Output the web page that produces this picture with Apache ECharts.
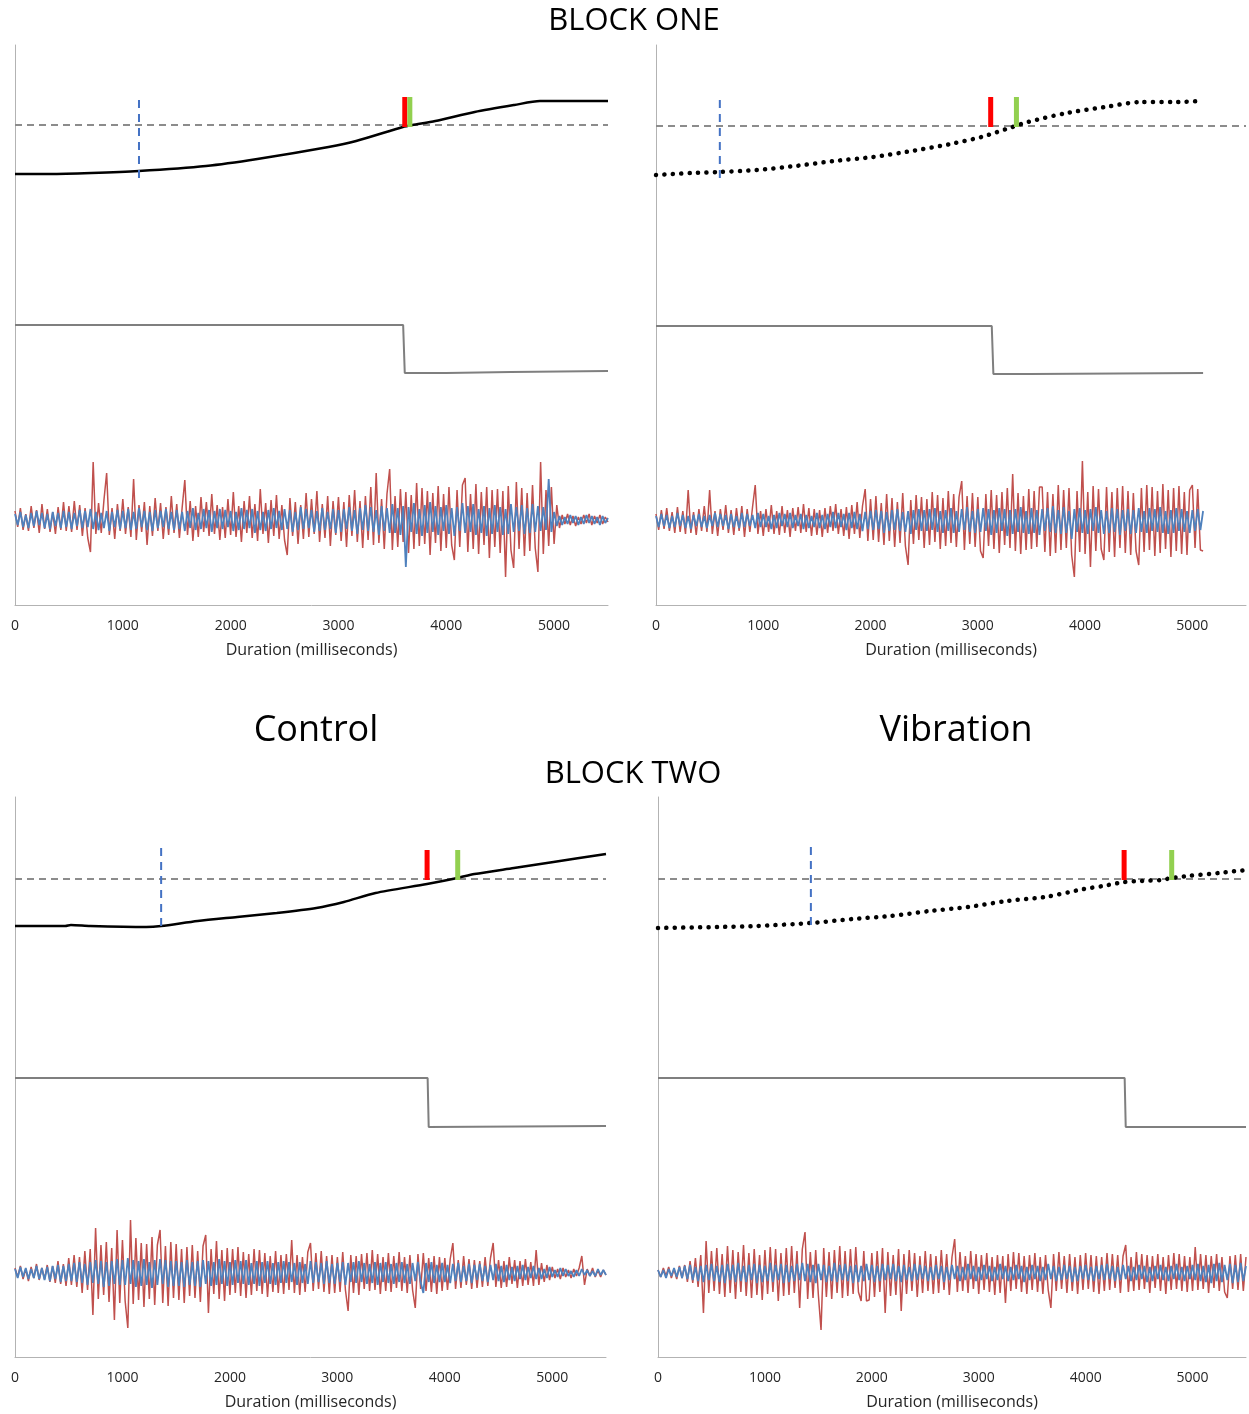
<!DOCTYPE html>
<html>
<head>
<meta charset="utf-8">
<script src="https://cdn.jsdelivr.net/npm/echarts/dist/echarts.min.js"></script>
<style>
html, body { margin: 0; padding: 0; background: #fff; }
#main { width: 1249px; height: 1414px; }
</style>
</head>
<body>
<div id="main"></div>
<script>
// ---- data (ms on x, arbitrary units on y) ----
var xTicks = [0, 1000, 2000, 3000, 4000, 5000];
var xMax = 5500;
var emgStep = 25;   // ms between EMG samples

// block one / control
var b1cCurveX = [0, 323, 708, 1148, 1771, 2248, 2908, 3164, 3597, 3685, 3898, 4264, 4631, 4869, 5500];
var b1cCurveY = [431, 431, 432, 434, 439, 446, 458, 464, 478, 480, 484, 493, 500, 504, 504];
var b1cLevel = 480;
var b1cOnset = [1150, 427, 508];
var b1cRed = [3615, 478, 508];
var b1cGreen = [3662, 478, 508];
var b1cStepX = [0, 3600, 3615, 4000, 4010, 4600, 4610, 5500];
var b1cStepY = [280, 280, 232, 232, 233, 233, 234, 234];
var b1cEmgBase = 85;
var b1cEmgRed = [
  9, -7, 12, -10, 6, -11, 14, -8, 10, -13, 16, -9, 11, -12, 8, -14, 13, -10, 18, -11,
  14, -12, 19, -10, 15, -16, 12, -18, -32, 58, -14, 17, -13, 20, 47, -15, 12, -19, 16, -11,
  21, -14, 13, -17, 41, -20, 15, -12, 18, -25, 14, -16, 22, -11, 17, -19, 13, -15, 24, -13,
  16, -18, 12, 40, -15, 19, -21, 14, -17, 23, -12, 18, -16, 26, -14, 15, -20, 13, -18, 21,
  -15, 28, -17, 14, -22, 19, -13, 24, -18, 16, -21, 31, -14, 17, -23, 20, -16, 25, -19, 15,
  -20, -35, 22, -16, 18, -24, 15, -19, 27, -17, 21, -14, 29, -22, 16, -18, 24, -26, 19, -15,
  23, -21, 18, -27, 25, -16, 30, -22, 19, -28, 24, -20, 33, -25, 47, -23, 21, -29, 26, 51,
  -30, 24, -27, 31, -22, 28, -33, 25, -29, 37, -26, 32, -24, 29, -35, 27, -23, 34, -31, 26,
  -28, 33, -25, -40, 30, -27, 35, 42, -32, 26, -29, 36, -34, 28, -25, 33, -38, 30, -27, 31,
  -33, 29, -57, 34, -30, -48, 38, -29, 32, -36, 27, -31, 35, -28, -52, 58, -34, 30, -26, 33,
  -24, 15, -8, 5, -4, 6, -5, 4, -6, 3, -4, 5, -3, 6, -5, 4, -3, 5, -4, 3,
  -2
];
var b1cEmgBlue = [
  6, -5, 8, -7, 5, -8, 7, -6, 9, -5, 7, -8, 6, -9, 8, -6, 7, -8, 9, -7,
  8, -9, 7, -6, 10, -8, 9, -7, 11, -9, 8, -10, 7, -8, 9, -11, 8, -7, 10, -9,
  9, -8, 11, -10, 8, -9, 12, -7, 9, -10, 8, -11, 10, -8, 9, -7, 11, -9, 8, -10,
  10, -9, 8, -11, 9, -8, 12, -10, 7, -9, 11, -8, 10, -12, 9, -8, 11, -9, 10, -7,
  9, -11, 8, -10, 12, -9, 10, -8, 11, -13, 9, -10, 8, -11, 10, -9, 12, -8, 9, -10,
  11, -9, 10, -12, 8, -10, 13, -9, 11, -8, 10, -12, 9, -11, 12, -10, 8, -9, 11, -13,
  10, -12, 11, -9, 13, -11, 10, -14, 12, -10, 15, -11, 13, -12, 10, -15, 14, -11, 12, -13,
  16, -13, 12, -15, 14, -47, 13, -12, 17, -14, 11, -16, 15, -13, 18, -12, 14, -15, 13, -11,
  15, -14, 12, -16, 13, -11, 17, -13, 14, -12, 16, -15, 11, -13, 14, -16, 12, -14, 15, -12,
  13, -15, 11, -14, 16, -12, 13, -11, 15, -14, 12, -13, 16, -12, 14, -11, 13, -10, 41, -12,
  8, -6, 4, -5, 3, -4, 5, -3, 4, -5, 3, -4, 5, -3, 4, -4, 3, -5, 4, -3,
  2
];

// block one / vibration
var b1vCurveX = [0, 325, 596, 939, 1300, 1661, 2022, 2384, 2745, 3034, 3322, 3467, 3828, 4189, 4514, 4839, 5100];
var b1vCurveY = [430, 432, 433, 435, 439, 444, 448, 454, 461, 468, 478, 483, 492, 498, 503, 503, 504];
var b1vLevel = 479;
var b1vOnset = [595, 427, 508];
var b1vRed = [3120, 478, 508];
var b1vGreen = [3360, 478, 508];
var b1vStepX = [0, 3130, 3145, 3500, 3510, 5100];
var b1vStepY = [279, 279, 231, 231, 232, 232];
var b1vEmgBase = 84;
var b1vEmgRed = [
  7, -9, 11, -8, 13, -10, 9, -12, 14, -11, 10, -13, 31, -12, 9, -14, 12, -10, 15, -11,
  31, -13, 10, -15, 12, -9, 16, -12, 11, -14, 13, -10, 15, -16, 12, -11, 14, 36, -13, 10,
  -15, 12, -11, 16, -13, 10, -14, 15, -12, 11, -16, 13, -10, 14, -12, 17, -11, 13, -15, 12,
  -14, 11, -16, 13, -12, 15, -10, 17, -13, 12, -15, 14, -18, 16, -13, 19, -17, 15, 32, -20,
  22, -19, 25, -21, 18, -24, 27, -20, 23, -26, 19, -22, 28, -25, -44, 21, -23, 26, -19, 24,
  -27, 22, -24, 29, -21, 26, -28, 23, -25, 30, -22, 27, -26, 24, 40, -29, 25, -23, 28, -26,
  24, -30, -37, 27, -25, 31, -28, 26, -32, 29, -24, 33, -27, 47, -30, 28, -33, 25, -29, 32,
  -28, 30, -26, 34, 34, -31, 29, -35, 27, -32, 36, -29, 31, -27, 33, -34, -56, 30, -31, 60,
  -33, 29, -46, 35, -30, 32, -28, -39, 34, -31, 29, -36, 33, -27, 35, -32, 30, -34, 28, -30,
  -44, 33, -31, 36, -29, 34, -35, 30, -32, 37, -28, 31, -36, 33, -30, 35, -33, 29, -34, 31,
  36, -27, 32, -29, -30
];
var b1vEmgBlue = [
  5, -6, 7, -5, 6, -7, 5, -6, 8, -5, 6, -7, 5, -8, 6, -5, 7, -6, 5, -7,
  6, -5, 8, -6, 7, -5, 6, -8, 7, -6, 5, -7, 8, -6, 7, -5, 6, -7, 8, -6,
  7, -6, 5, -8, 6, -7, 8, -5, 7, -6, 8, -7, 6, -5, 7, -8, 6, -7, 5, -6,
  8, -7, 6, -8, 7, -6, 9, -7, 8, -6, 7, -9, 8, -7, 9, -8, 7, -10, 9, -8,
  10, -9, 11, -8, 10, -12, 9, -10, 11, -9, 12, -10, 9, -11, 10, -13, 11, -9, 12, -10,
  11, -10, 12, -9, 13, -11, 10, -12, 11, -10, 13, -12, 10, -11, 12, -9, 14, -11, 10, -12,
  12, -11, 13, -10, 12, -14, 11, -12, 13, -10, 12, -15, 11, -13, 12, -11, 14, -12, 10, -13,
  13, -12, 11, -14, 12, -10, 13, -11, 15, -12, 11, -13, 14, -12, 10, -18, 12, -11, 13, -12,
  11, -13, 12, -10, 14, -12, 11, -13, 10, -12, 13, -11, 12, -14, 11, -10, 12, -13, 11, -12,
  13, -11, 10, -12, 13, -10, 12, -11, 14, -12, 10, -13, 11, -12, 13, -10, 12, -11, 10, -12,
  11, -10, 12, -9, 10
];

// block two / control
var b2cCurveX = [0, 467, 520, 700, 1221, 1361, 1700, 2068, 2436, 2804, 3061, 3355, 3834, 4117, 4275, 4643, 5011, 5500];
var b2cCurveY = [431, 431, 432, 431, 430, 431, 436, 440, 444, 449, 455, 464, 473, 479, 483, 489, 495, 503];
var b2cLevel = 478;
var b2cOnset = [1360, 431, 515];
var b2cRed = [3835, 477, 507];
var b2cGreen = [4120, 477, 507];
var b2cStepX = [0, 3840, 3850, 5500];
var b2cStepY = [279, 279, 230, 231];
var b2cEmgBase = 84;
var b2cEmgRed = [
  5, -4, 7, -6, 4, -8, 6, -5, 9, -7, 5, -6, 8, -9, 7, -10, 12, -11, 9, -13,
  15, -12, 18, -14, 16, -20, 22, -17, 24, -42, 45, -26, 28, -22, 31, -29, 25, -47, 43, -30,
  33, -28, -55, 53, -31, 35, -27, 30, -34, 29, -26, 36, -32, 28, 43, -30, 27, -33, 31, -25,
  29, -27, 24, -30, 26, -23, 28, -25, 22, -29, 27, 38, -40, 24, -21, 32, -26, 23, -28, 25,
  -22, 24, -20, 26, -23, 21, -25, 19, -22, 24, -18, 23, -21, 20, -24, 17, -19, 22, -20, 18,
  -21, 19, -17, 33, -20, 18, -22, 16, -19, 21, 30, -18, 20, -16, 22, -19, 17, -21, 18, -20,
  16, -19, 21, -17, -38, 18, -20, 17, -22, 19, -16, 20, -18, 23, -17, 19, -21, 16, -18, 20,
  -19, 17, -15, 21, -18, 16, -20, 18, -17, -35, 19, -16, 20, -18, 15, -19, 17, -21, 16, -18,
  15, -17, 14, 30, -16, 13, -15, 17, -12, 14, -16, 13, -15, 12, -14, 16, -13, 15, 30, -14,
  13, -15, 12, -14, 16, -11, 13, -15, 12, -13, 14, -12, 11, -13, 23, -12, 10, -9, 8, -7,
  6, -5, 4, -6, 5, -4, 3, -5, 4, -3, 5, 17, -12, 4, -3, 5, -4, 3, -4, 3,
  -2
];
var b2cEmgBlue = [
  4, -5, 6, -4, 5, -6, 4, -5, 7, -6, 5, -7, 6, -8, 7, -6, 8, -9, 7, -8,
  9, -8, 10, -9, 11, -10, 9, -12, 11, -10, 13, -11, 12, -14, 11, -13, 12, -11, 14, -12,
  13, -12, 15, -11, 13, -14, 12, -13, 14, -12, 11, -15, 13, -12, 14, -11, 13, -14, 12, -13,
  12, -13, 11, -14, 13, -12, 11, -13, 12, -14, 13, -11, 12, -13, 11, -12, 14, -11, 12, -13,
  11, -12, 13, -10, 12, -11, 13, -12, 10, -11, 12, -13, 11, -10, 12, -11, 10, -12, 11, -10,
  12, -10, 11, -9, 10, -12, 11, -10, 9, -11, 12, -10, 11, -9, 10, -11, 12, -10, 9, -11,
  10, -9, 11, -12, 10, -9, 11, -10, 12, -9, 10, -11, 9, -10, 11, -12, 10, -9, 11, -10,
  9, -11, 10, -9, 11, -10, 9, -11, 10, -8, 11, -9, -20, 10, -9, 11, -10, 8, -9, 10,
  -9, 8, -10, 9, -8, 10, -9, 7, -8, 9, -10, 8, -7, 9, -8, 7, -9, 8, -7, 9,
  -8, 7, -9, 8, -7, 6, -8, 7, -6, 8, -7, 6, -5, 7, -6, 5, -6, 4, -5, 6,
  -4, 3, -4, 5, -3, 4, -3, 2, -4, 3, -3, 4, -2, 3, -3, 2, -3, 4, -2, 3,
  -2
];

// block two / vibration
var b2vCurveX = [0, 559, 919, 1429, 1820, 2181, 2541, 2902, 3262, 3623, 3983, 4163, 4362, 4524, 4704, 4805, 4957, 5245, 5500];
var b2vCurveY = [429, 430, 431, 434, 438, 441, 446, 450, 456, 460, 468, 471, 475, 476, 477, 479, 481, 484, 487];
var b2vLevel = 478;
var b2vOnset = [1430, 432, 514];
var b2vRed = [4360, 477, 507];
var b2vGreen = [4805, 477, 507];
var b2vStepX = [0, 4365, 4375, 5500];
var b2vStepY = [279, 279, 230, 230];
var b2vEmgBase = 84;
var b2vEmgRed = [
  3, -4, 5, -3, 6, -5, 4, -6, 7, -5, 8, -9, 12, -10, 15, -14, 18, -40, 32, -20,
  22, -18, 25, -21, 19, -24, 27, -20, 23, -26, 21, -19, 28, -23, 20, -25, 24, -22, 18, -27,
  23, -21, 26, -19, 24, -28, 20, -23, 25, -22, 27, -20, 22, -35, 24, 41, -26, 21, -25, 23,
  -22, -57, 25, -24, 21, -26, 23, -20, 27, -25, 22, -23, 24, -21, 26, -19, -28, 22, -28, -27,
  20, -24, 22, -19, 25, -40, 21, -23, 18, -22, 24, -38, 19, -21, 23, -18, 20, -24, 17, -20,
  22, -18, 19, -21, 17, -20, 23, -17, 19, -22, 16, 34, -19, 21, -18, 17, -20, 22, -16, 19,
  -21, 18, -17, 20, -19, 16, -22, 18, -20, 17, -30, 19, -18, 21, -16, 20, -19, 17, -21, 18,
  -17, 20, -19, 16, -21, 18, -17, -35, 19, -18, 21, -16, 17, -20, 19, -18, 16, -21, 18, -17,
  20, -16, 18, -19, 17, -21, 16, -18, 20, -17, 19, -15, 18, -20, 17, 28, -19, 16, -18, 21,
  -17, 19, -16, 18, -20, 17, -15, 19, -18, 16, -21, 18, -17, 20, -16, 19, -18, 17, -19, 16,
  -18, 26, -17, 19, -16, 18, -20, 17, -15, 19, -18, 16, -19, -25, 17, -16, 18, -17, 19, -18,
  16
];
var b2vEmgBlue = [
  3, -4, 3, -5, 4, -3, 5, -4, 6, -5, 7, -6, 8, -7, 6, -8, 7, -9, 8, -7,
  9, -8, 7, -9, 8, -10, 9, -7, 8, -9, 10, -8, 7, -9, 8, -7, 9, -10, 8, -9,
  7, -8, 10, -9, 8, -7, 9, -10, 8, -9, 7, -8, 9, -7, 10, -8, 9, -9, 8, -10,
  9, -7, 8, -9, 7, -8, 10, -9, 8, -7, 9, -8, 7, -10, 8, -9, 7, -8, 9, -7,
  8, -9, 7, -8, 9, -7, 8, -6, 9, -8, 7, -9, 8, -7, 6, -8, 9, -7, 8, -6,
  7, -8, 6, -7, 8, -6, 7, -9, 6, -7, 8, -6, 7, -8, 6, -7, 9, -6, 7, -8,
  6, -7, 8, -6, 7, -8, 6, -7, 9, -6, 7, -8, 6, -7, 8, -6, 7, -9, 6, -7,
  8, -6, 7, -8, 6, -7, 9, -6, 7, -8, 6, -7, 8, -6, 7, -9, 6, -8, 7, -6,
  8, -7, 6, -8, 7, -6, 8, -7, 9, -6, 7, -8, 6, -7, 8, -6, 7, -8, 6, -7,
  8, -6, 7, -9, 6, -8, 7, -6, 8, -7, 6, -8, 7, -6, 9, -7, 6, -8, 7, -6,
  8, -7, 9, -8, 7, -9, 8, -10, 9, -8, 10, -9, 8, -7, 9, -10, 8, -9, 10, -8,
  7
];

// ---- chart ----
var fontFam = '"Open Sans", "Liberation Sans", sans-serif';
var chart = echarts.init(document.getElementById('main'), null, { renderer: 'canvas' });

function pairs(xs, ys) {
    var out = [];
    for (var i = 0; i < xs.length; i++) out.push([xs[i], ys[i]]);
    return out;
}
function emg(vals, base) {
    var out = [];
    for (var i = 0; i < vals.length; i++) out.push([i * emgStep, base + vals[i]]);
    return out;
}
function vline(m) {
    return [[m[0], m[1]], [m[0], m[2]]];
}

var panels = [
    { cx: b1cCurveX, cy: b1cCurveY, lvl: b1cLevel, onset: b1cOnset, red: b1cRed, green: b1cGreen,
      sx: b1cStepX, sy: b1cStepY, base: b1cEmgBase, er: b1cEmgRed, eb: b1cEmgBlue, dotted: false },
    { cx: b1vCurveX, cy: b1vCurveY, lvl: b1vLevel, onset: b1vOnset, red: b1vRed, green: b1vGreen,
      sx: b1vStepX, sy: b1vStepY, base: b1vEmgBase, er: b1vEmgRed, eb: b1vEmgBlue, dotted: true },
    { cx: b2cCurveX, cy: b2cCurveY, lvl: b2cLevel, onset: b2cOnset, red: b2cRed, green: b2cGreen,
      sx: b2cStepX, sy: b2cStepY, base: b2cEmgBase, er: b2cEmgRed, eb: b2cEmgBlue, dotted: false },
    { cx: b2vCurveX, cy: b2vCurveY, lvl: b2vLevel, onset: b2vOnset, red: b2vRed, green: b2vGreen,
      sx: b2vStepX, sy: b2vStepY, base: b2vEmgBase, er: b2vEmgRed, eb: b2vEmgBlue, dotted: true }
];

var grids = [
    { left: 15, top: 45, width: 593, height: 560 },
    { left: 656, top: 45, width: 591, height: 560 },
    { left: 15, top: 797, width: 591, height: 560 },
    { left: 658, top: 797, width: 593, height: 560 }
];

var xAxes = [], yAxes = [], series = [];
grids.forEach(function (g, i) {
    xAxes.push({
        type: 'value', gridIndex: i, min: 0, max: xMax, interval: 1000,
        name: 'Duration (milliseconds)', nameLocation: 'middle', nameGap: 37,
        nameTextStyle: { fontFamily: fontFam, fontSize: 16, color: '#262626' },
        axisLine: { lineStyle: { color: '#b3b3b3', width: 1 } },
        axisTick: { show: false },
        splitLine: { show: false },
        axisLabel: {
            margin: 14, fontFamily: fontFam, fontSize: 14, color: '#262626',
            formatter: function (v) { return xTicks.indexOf(v) >= 0 ? String(v) : ''; }
        }
    });
    yAxes.push({
        type: 'value', gridIndex: i, min: 0, max: 560,
        axisLine: { show: true, lineStyle: { color: '#b3b3b3', width: 1 } },
        axisTick: { show: false }, axisLabel: { show: false }, splitLine: { show: false }
    });
});

panels.forEach(function (p, i) {
    var common = { type: 'line', xAxisIndex: i, yAxisIndex: i, symbol: 'none', silent: true };
    series.push(Object.assign({}, common, {
        data: emg(p.er, p.base), lineStyle: { color: '#c0504d', width: 1.5 }
    }));
    series.push(Object.assign({}, common, {
        data: emg(p.eb, p.base), lineStyle: { color: '#4f81bd', width: 1.8 }
    }));
    series.push(Object.assign({}, common, {
        data: pairs(p.sx, p.sy), lineStyle: { color: '#7f7f7f', width: 2 }
    }));
    series.push(Object.assign({}, common, {
        data: [[0, p.lvl], [xMax, p.lvl]],
        lineStyle: { color: '#8c8c8c', width: 2, type: [7, 5] }
    }));
    series.push(Object.assign({}, common, {
        data: pairs(p.cx, p.cy), smooth: 0.25,
        lineStyle: p.dotted
            ? { color: '#000', width: 4.5, type: [0.1, 8.3], cap: 'round' }
            : { color: '#000', width: 2.5 }
    }));
    series.push(Object.assign({}, common, {
        data: vline(p.onset), lineStyle: { color: '#4472c4', width: 2, type: [8, 6] }
    }));
    series.push(Object.assign({}, common, {
        data: vline(p.red), lineStyle: { color: '#ff0000', width: 5 }
    }));
    series.push(Object.assign({}, common, {
        data: vline(p.green), lineStyle: { color: '#92d050', width: 5 }
    }));
});

function label(text, x, y, size) {
    return {
        type: 'text', x: x, y: y, silent: true,
        style: { text: text, fontSize: size, fontFamily: fontFam, fill: '#000',
                 textAlign: 'center', textVerticalAlign: 'middle' }
    };
}

var option = {
    animation: false,
    backgroundColor: '#fff',
    grid: grids,
    xAxis: xAxes,
    yAxis: yAxes,
    series: series,
    graphic: [
        label('BLOCK ONE', 634, 21, 31),
        label('Control', 316, 731, 36),
        label('Vibration', 956, 731, 36),
        label('BLOCK TWO', 633, 774, 31)
    ]
};
chart.setOption(option, true);
</script>
</body>
</html>
